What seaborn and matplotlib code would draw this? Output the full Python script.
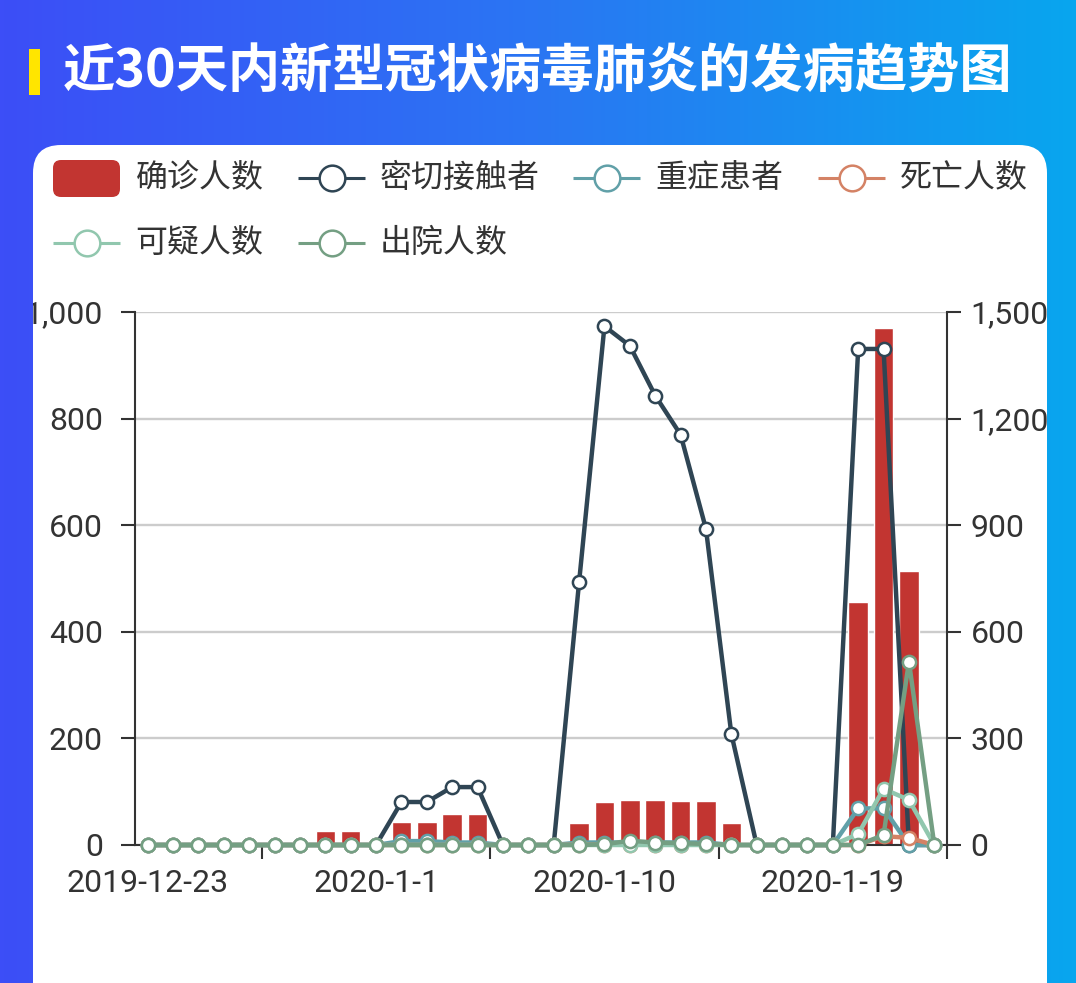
import numpy as np
import pandas as pd
import seaborn as sns
import matplotlib.pyplot as plt
from matplotlib.patches import FancyBboxPatch, Rectangle
from matplotlib.colors import LinearSegmentedColormap
from matplotlib.ticker import FixedLocator, FuncFormatter

# ---- data ----
dates = [f"{d.year}-{d.month}-{d.day}" for d in pd.date_range("2019-12-23", "2020-01-23")]

confirmed = [0, 0, 0, 0, 0, 0, 0, 27, 27, 0, 44, 44, 59, 59, 0, 0,
             0, 41, 81, 84, 84, 82, 82, 41, 0, 0, 0, 0, 456, 970, 514, 0]
contacts = [0, 0, 0, 0, 0, 0, 0, 0, 0, 0, 121, 121, 163, 163, 0, 0,
            0, 739, 1460, 1405, 1265, 1155, 890, 313, 0, 0, 0, 0, 1396, 1396, 0, 0]
severe = [0, 0, 0, 0, 0, 0, 0, 0, 0, 0, 11, 11, 7, 7, 0, 0,
          0, 7, 7, 7, 7, 7, 7, 0, 0, 0, 0, 0, 103, 103, 0, 0]
deaths = [0, 0, 0, 0, 0, 0, 0, 0, 0, 0, 0, 0, 0, 0, 0, 0,
          0, 1, 1, 1, 1, 1, 1, 0, 0, 0, 0, 0, 0, 25, 20, 0]
suspected = [0, 0, 0, 0, 0, 0, 0, 0, 0, 0, 0, 0, 0, 0, 0, 0,
             0, 0, 0, 0, 0, 0, 0, 0, 0, 0, 0, 0, 31, 158, 127, 0]
discharged = [0, 0, 0, 0, 0, 0, 0, 0, 0, 0, 0, 0, 0, 0, 0, 0,
              0, 0, 2, 12, 7, 5, 3, 0, 0, 0, 0, 0, 0, 28, 516, 0]

line_names = ["密切接触者", "重症患者", "死亡人数", "可疑人数", "出院人数"]
line_values = [contacts, severe, deaths, suspected, discharged]
bar_name = "确诊人数"

left_ticks = [0, 200, 400, 600, 800, 1000]
right_ticks = [0, 300, 600, 900, 1200, 1500]
label_idx = [0, 9, 18, 27]
title = "近30天内新型冠状病毒肺炎的发病趋势图"

colors = ["#c23531", "#2f4554", "#61a0a8", "#d48265", "#91c7ae", "#749f83"]

df = pd.DataFrame({"date": dates, "pos": np.arange(len(dates)), bar_name: confirmed})
for n, v in zip(line_names, line_values):
    df[n] = v

# ---- style ----
sns.set_theme(style="white")
plt.rcParams["font.family"] = ["Roboto", "Noto Sans CJK SC", "DejaVu Sans"]
TXT = "#333333"
CJK = ["Noto Sans CJK SC", "DejaVu Sans"]

W, H = 1076, 983
fig = plt.figure(figsize=(W / 100, H / 100), dpi=100)

# background + card, in pixel coords
bg = fig.add_axes([0, 0, 1, 1])
bg.set_xlim(0, W)
bg.set_ylim(H, 0)
bg.axis("off")
grad = LinearSegmentedColormap.from_list("g", ["#3c4ef7", "#2a76f3", "#08a6ee"])
bg.imshow(np.linspace(0, 1, 256).reshape(1, -1), cmap=grad, aspect="auto",
          extent=[0, W, H, 0], zorder=0)
bg.add_patch(FancyBboxPatch((33, 145), 1014, 900, boxstyle="round,pad=0,rounding_size=28",
                            fc="white", ec="none", zorder=1))
bg.add_patch(Rectangle((29, 49), 11, 46, fc="#ffe500", ec="none", zorder=2))
bg.text(63, 72, title, color="white", fontsize=37.6, fontweight="bold",
        family=CJK, va="center", ha="left", zorder=3)

# legend
def legend_text(x, y, s):
    bg.text(x, y, s, color=TXT, fontsize=23, family=CJK, va="center", ha="left", zorder=3)

bg.add_patch(FancyBboxPatch((53, 160), 67, 37, boxstyle="round,pad=0,rounding_size=8",
                            fc=colors[0], ec="none", zorder=3))
legend_text(136, 178, bar_name)
slots = [(298, 178), (573, 178), (818, 178), (53, 243), (298, 243)]
for (x0, y0), name, c in zip(slots, line_names, colors[1:]):
    bg.plot([x0, x0 + 67], [y0, y0], color=c, lw=2.2, zorder=3, solid_capstyle="butt")
    bg.plot([x0 + 33.5], [y0], "o", ms=18.5, mfc="white", mec=c, mew=1.8, zorder=4)
    legend_text(x0 + 82, y0, name)

# ---- main chart ----
ax = fig.add_axes([135 / W, 1 - 845 / H, 812 / W, 533 / H])
ax.patch.set_alpha(0)
sns.barplot(data=df, x="date", y=bar_name, ax=ax, color=colors[0], saturation=1,
            width=0.77, zorder=2)
ax.set_xlim(-0.5, len(dates) - 0.5)
ax.set_ylim(0, 1000)

ax2 = ax.twinx()
for n, c in zip(line_names, colors[1:]):
    sns.lineplot(data=df, x="pos", y=n, ax=ax2, color=c, lw=3.2, marker="o", ms=9.5,
                 mfc="white", mec=c, mew=1.8, clip_on=False, zorder=3)
ax2.set_ylim(0, 1500)
ax2.set_xlim(-0.5, len(dates) - 0.5)

for a in (ax, ax2):
    a.set_xlabel("")
    a.set_ylabel("")
    for s in a.spines.values():
        s.set_visible(False)
        s.set_color(TXT)
        s.set_linewidth(1.5)

ax.spines["left"].set_visible(True)
ax.spines["bottom"].set_visible(True)
ax2.spines["right"].set_visible(True)

comma = FuncFormatter(lambda v, p: f"{int(v):,}")
ax.yaxis.set_major_locator(FixedLocator(left_ticks))
ax.yaxis.set_major_formatter(comma)
ax2.yaxis.set_major_locator(FixedLocator(right_ticks))
ax2.yaxis.set_major_formatter(comma)
ax.tick_params(axis="y", direction="out", length=10, width=1.5, color=TXT,
               labelcolor=TXT, labelsize=23, pad=13, left=True)
ax2.tick_params(axis="y", direction="out", length=10, width=1.5, color=TXT,
                labelcolor=TXT, labelsize=23, pad=7, right=True)

ax.xaxis.set_major_locator(FixedLocator(label_idx))
ax.set_xticklabels([dates[i] for i in label_idx])
ax.xaxis.set_minor_locator(FixedLocator([i + 4.5 for i in label_idx]))
ax.tick_params(axis="x", which="major", length=0, labelcolor=TXT, labelsize=23, pad=17)
ax.tick_params(axis="x", which="minor", direction="out", length=10, width=1.5,
               color=TXT, bottom=True)

ax.yaxis.grid(True, color="#cccccc", lw=1.7)
ax.set_axisbelow(True)

# labels are cut at the card edge
clip = Rectangle((33, 0), 1014, H, transform=bg.transData)
for t in ax.get_yticklabels() + ax2.get_yticklabels():
    t.set_clip_path(clip)

fig.savefig("out.png", dpi=100)
